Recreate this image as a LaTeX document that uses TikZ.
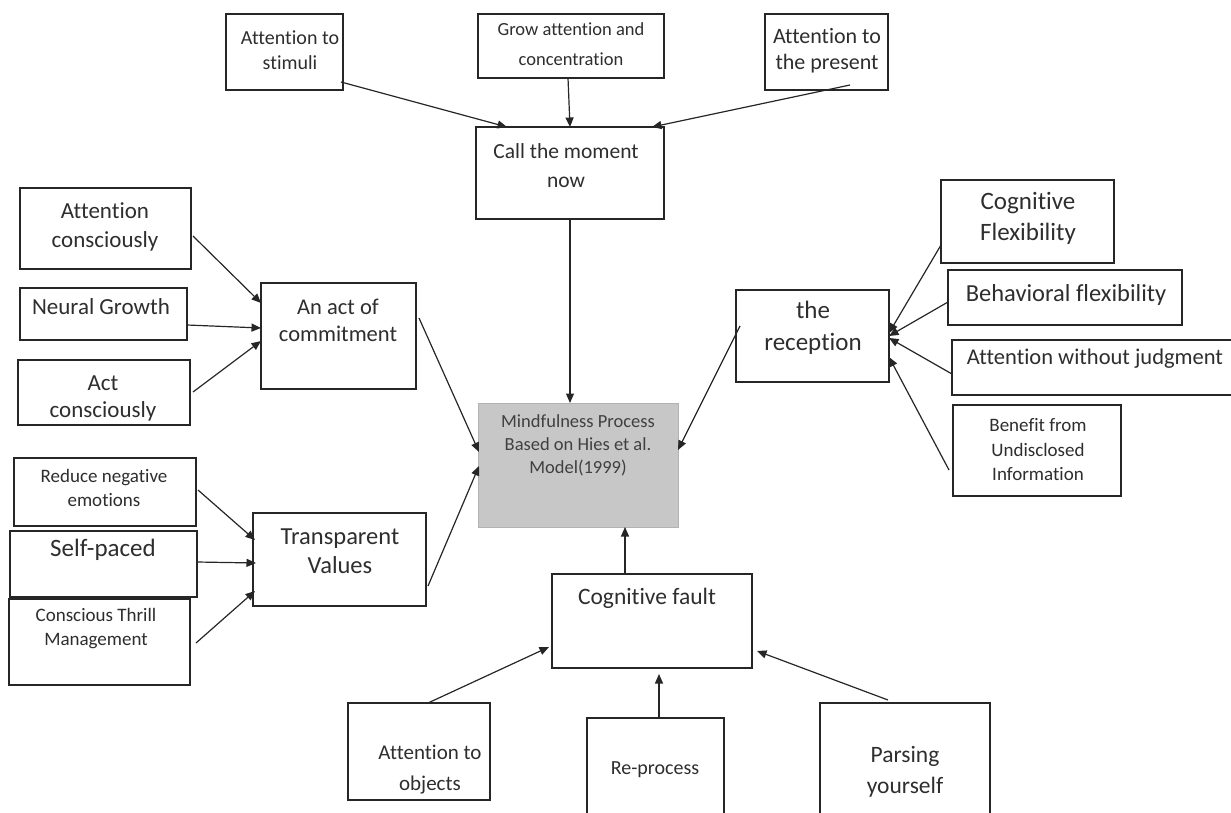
\documentclass[tikz,border=0pt]{standalone}
\usepackage{fontspec}
\setmainfont{Carlito}[Ligatures={NoCommon,NoRequired}]
\usetikzlibrary{arrows.meta,fit}
\begin{document}
\begin{tikzpicture}[x=1pt,y=-1pt,
  box/.style={draw=black!85, line width=1.4pt, inner sep=0pt, outer sep=0pt, fill=white},
  mid/.style={draw=black!30, line width=0.8pt, inner sep=0pt, outer sep=0pt, fill=black!22},
  lbl/.style={align=center, inner sep=0pt, text=black!82},
  arr/.style={-{Triangle[length=9.5pt,width=8pt]}, line width=1.2pt, draw=black!85},
]
\useasboundingbox (0,0) rectangle (1231,813);
% boxes
\node[box, fit={(226,14)(343,90)}] (s1) {};
\node[box, fit={(478,14)(664,78)}] (grow) {};
\node[box, fit={(765,14)(888,90)}] (pres) {};
\node[box, fit={(476,127)(664,219)}] (call) {};
\node[box, fit={(20,188)(191,269)}] (ac) {};
\node[box, fit={(20,288)(187,340)}] (ng) {};
\node[box, fit={(18,360)(190,425)}] (actc) {};
\node[box, fit={(261,283)(416,389)}] (com) {};
\node[box, fit={(14,458)(196,526)}] (rne) {};
\node[box, fit={(10,531)(197,597)}] (sp) {};
\node[box, fit={(9,599)(190,685)}] (ct) {};
\node[box, fit={(253,513)(426,606)}] (tv) {};
\node[mid, fit={(478,403)(678,527)}] (ctr) {};
\node[box, fit={(736,290)(889,382)}] (rec) {};
\node[box, fit={(941,180)(1114,263)}] (cf) {};
\node[box, fit={(948,270)(1182,325)}] (bf) {};
\node[box, fit={(952,340)(1245,395)}] (awj) {};
\node[box, fit={(953,405)(1121,496)}] (ben) {};
\node[box, fit={(552,574)(752,668)}] (fault) {};
\node[box, fit={(348,703)(490,800)}] (ato) {};
\node[box, fit={(587,718)(724,820)}] (rp) {};
\node[box, fit={(820,703)(990,820)}] (py) {};
% labels
\node[lbl, font=\fontsize{20}{25}\selectfont] (l1) at (290,50) {Attention to\\stimuli};
\node[lbl, font=\fontsize{18.5}{30}\selectfont] (l2) at (571,44) {Grow attention and\\concentration};
\node[lbl, font=\fontsize{22}{26}\selectfont] (l3) at (827,51) {Attention to\\the present};
\node[lbl, font=\fontsize{21.5}{29}\selectfont] (l4) at (566,166) {Call the moment\\now};
\node[lbl, font=\fontsize{23}{29}\selectfont] (l5) at (105,227) {Attention\\consciously};
\node[lbl, font=\fontsize{23}{24}\selectfont] (l6) at (101,307) {Neural Growth};
\node[lbl, font=\fontsize{23}{27}\selectfont] (l7) at (103,398) {Act\\consciously};
\node[lbl, font=\fontsize{22.5}{27}\selectfont] (l8) at (338,320) {An act of\\commitment};
\node[lbl, font=\fontsize{19}{24}\selectfont] (l9) at (104,488) {Reduce negative\\emotions};
\node[lbl, font=\fontsize{25}{28}\selectfont] (l10) at (103,550) {Self-paced};
\node[lbl, font=\fontsize{19}{24}\selectfont] (l11) at (96,629) {Conscious Thrill\\Management};
\node[lbl, font=\fontsize{24.5}{29}\selectfont] (l12) at (340,551) {Transparent\\Values};
\node[lbl, font=\fontsize{18.5}{23}\selectfont, text=black!75] (l13) at (578,445) {Mindfulness Process\\Based on Hies et al.\\Model(1999)};
\node[lbl, font=\fontsize{25}{32}\selectfont] (l14) at (813,328) {the\\reception};
\node[lbl, font=\fontsize{25}{31}\selectfont] (l15) at (1028,218) {Cognitive\\Flexibility};
\node[lbl, font=\fontsize{24.5}{28}\selectfont] (l16) at (1066,295) {Behavioral flexibility};
\node[lbl, font=\fontsize{22.5}{26}\selectfont] (l17) at (1095,359) {Attention without judgment};
\node[lbl, font=\fontsize{19}{24.5}\selectfont] (l18) at (1038,450) {Benefit from\\Undisclosed\\Information};
\node[lbl, font=\fontsize{23.5}{27}\selectfont] (l19) at (647,598) {Cognitive fault};
\node[lbl, font=\fontsize{21}{31}\selectfont] (l20) at (430,770) {Attention to\\objects};
\node[lbl, font=\fontsize{20}{24}\selectfont] (l21) at (655,770) {Re-process};
\node[lbl, font=\fontsize{23.5}{31}\selectfont] (l22) at (905,772) {Parsing\\yourself};
% arrows
\draw[arr] ([xshift=-2pt,yshift=-68pt]s1.north east) -- ([xshift=31pt]call.north west);
\draw[arr] ([xshift=-3pt]grow.south) -- (call.north);
\draw[arr] ([xshift=85pt,yshift=-71pt]pres.north west) -- ([xshift=-12pt]call.north east);
\draw[arr] (call.south) -- ([xshift=-8pt]ctr.north);
\draw[arr] ([xshift=2pt,yshift=-48pt]ac.north east) -- ([yshift=-20pt]com.north west);
\draw[arr] ([yshift=-37pt]ng.north east) -- ([yshift=-45pt]com.north west);
\draw[arr] ([xshift=3pt,yshift=-32pt]actc.north east) -- ([yshift=-58pt]com.north west);
\draw[arr] ([xshift=3pt,yshift=-35pt]com.north east) -- ([xshift=1pt,yshift=-49pt]ctr.north west);
\draw[arr] ([xshift=2pt,yshift=-73pt]tv.north east) -- ([xshift=1pt,yshift=-63pt]ctr.north west);
\draw[arr] ([xshift=4pt,yshift=-36pt]rec.north west) -- ([yshift=-47pt]ctr.north east);
\draw[arr] ([yshift=-65pt]cf.north west) -- ([yshift=-43pt]rec.north east);
\draw[arr] ([yshift=-32pt]bf.north west) -- ([yshift=-46pt]rec.north east);
\draw[arr] ([yshift=-34pt]awj.north west) -- ([yshift=-48pt]rec.north east);
\draw[arr] ([xshift=-4pt,yshift=-65pt]ben.north west) -- ([yshift=-67pt]rec.north east);
\draw[arr] ([xshift=-27pt]fault.north) -- ([xshift=47pt]ctr.south);
\draw[arr] ([xshift=9pt]ato.north) -- ([xshift=-3pt,yshift=-73pt]fault.north west);
\draw[arr] ([xshift=3.5pt]rp.north) -- ([xshift=7pt,yshift=-6pt]fault.south);
\draw[arr] ([xshift=-17pt,yshift=3pt]py.north) -- ([xshift=5pt,yshift=-77pt]fault.north east);
\draw[arr] ([xshift=2pt,yshift=-32pt]rne.north east) -- ([xshift=2pt,yshift=-27pt]tv.north west);
\draw[arr] ([yshift=-31pt]sp.north east) -- ([xshift=3pt,yshift=-50pt]tv.north west);
\draw[arr] ([xshift=6pt,yshift=-44pt]ct.north east) -- ([xshift=2pt,yshift=-78pt]tv.north west);
\end{tikzpicture}
\end{document}
